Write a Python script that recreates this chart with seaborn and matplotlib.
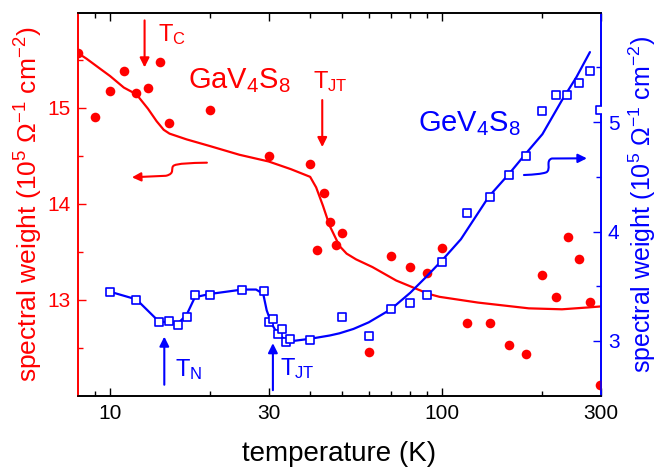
import numpy as np
import pandas as pd
import matplotlib
matplotlib.use("Agg")
import matplotlib.pyplot as plt
from matplotlib.path import Path
from matplotlib.patches import FancyArrowPatch
from matplotlib.ticker import FixedLocator, NullFormatter
import seaborn as sns

# GaV4S8 spectral weight (left axis, red dots + fit line)
ga_temp = [8.0, 9.0, 10.0, 11.0, 12.0, 13.0, 14.1, 15.0, 20.0, 30.0, 40.0, 41.9, 43.9,
           45.8, 47.8, 50.0, 60.0, 70.0, 80.0, 90.0, 100.0, 119, 139, 159, 178, 200,
           219, 238, 258, 278, 298]
ga_weight = [15.57, 14.90, 15.17, 15.38, 15.15, 15.21, 15.48, 14.84, 14.98, 14.50, 14.41,
             13.52, 14.11, 13.81, 13.57, 13.69, 12.46, 13.46, 13.34, 13.28, 13.54, 12.76,
             12.76, 12.53, 12.43, 13.26, 13.03, 13.65, 13.42, 12.98, 12.11]
ga_fit_temp = [8, 8.5, 9.3, 10, 11, 12, 13, 13.8, 14.5, 15.1, 17, 20, 24.5, 30, 35, 40,
               41.7, 43.7, 45.8, 49, 51.5, 55, 61.6, 72.6, 91, 98, 128, 182, 229, 276, 300]
ga_fit_weight = [15.57, 15.51, 15.41, 15.33, 15.21, 15.14, 14.99, 14.86, 14.77, 14.73,
                 14.67, 14.60, 14.51, 14.44, 14.36, 14.28, 14.17, 13.98, 13.77, 13.56,
                 13.48, 13.42, 13.34, 13.20, 13.06, 13.03, 12.97, 12.91, 12.90, 12.92, 12.93]

# GeV4S8 spectral weight (right axis, blue open squares + fit line)
ge_temp = [10, 12, 14, 15, 16, 17, 18, 20, 25, 29, 30, 31, 32.1, 32.9, 33.9, 34.8, 40,
           50, 60, 70, 80, 90, 100, 119, 139, 159, 178, 200, 219, 237, 258, 278, 298]
ge_weight = [3.45, 3.37, 3.17, 3.18, 3.15, 3.22, 3.42, 3.42, 3.47, 3.46, 3.17, 3.20, 3.06,
             3.11, 2.99, 3.02, 3.01, 3.22, 3.05, 3.29, 3.35, 3.42, 3.72, 4.17, 4.32, 4.52,
             4.69, 5.10, 5.25, 5.25, 5.36, 5.47, 5.11]
ge_fit_temp = [10, 12, 14, 15, 16, 17, 18, 20, 25, 27.5, 28.9, 29.6, 30.6, 31.7, 33.6,
               35.5, 40, 45.8, 49, 54, 60, 70, 80, 89, 100, 113.7, 138, 159, 178,
               200, 229, 253, 278]
ge_fit_weight = [3.45, 3.38, 3.18, 3.17, 3.16, 3.24, 3.40, 3.43, 3.47, 3.47, 3.43, 3.28,
                 3.16, 3.08, 3.01, 3.00, 3.02, 3.05, 3.07, 3.11, 3.17, 3.29, 3.44, 3.58,
                 3.74, 3.93, 4.32, 4.53, 4.71, 4.89, 5.20, 5.41, 5.64]

x_major = [10, 30, 100, 300]
x_minor = [9, 20, 40, 50, 60, 70, 80, 90, 200]

RED = "#ff0000"
BLUE = "#0000ff"

sns.set_theme(style="ticks")
plt.rcParams["font.family"] = ["Liberation Sans", "DejaVu Sans"]
plt.rcParams["mathtext.fontset"] = "custom"
plt.rcParams["mathtext.rm"] = "Liberation Sans"
plt.rcParams["mathtext.it"] = "Liberation Sans:italic"
plt.rcParams["mathtext.bf"] = "Liberation Sans:bold"

fig = plt.figure(figsize=(6.6, 4.67), dpi=100)
ax = fig.add_axes([0.118, 0.1527, 0.7925, 0.8201])
ax2 = ax.twinx()

ga = pd.DataFrame({"T": ga_temp, "W": ga_weight})
ga_fit = pd.DataFrame({"T": ga_fit_temp, "W": ga_fit_weight})
ge = pd.DataFrame({"T": ge_temp, "W": ge_weight})
ge_fit = pd.DataFrame({"T": ge_fit_temp, "W": ge_fit_weight})

sns.lineplot(data=ga_fit, x="T", y="W", ax=ax, color=RED, lw=1.6, sort=False, zorder=2)
sns.scatterplot(data=ga, x="T", y="W", ax=ax, color=RED, s=48, edgecolor=RED,
                linewidth=0, zorder=3)
sns.lineplot(data=ge_fit, x="T", y="W", ax=ax2, color=BLUE, lw=1.6, sort=False, zorder=2)
sns.scatterplot(data=ge, x="T", y="W", ax=ax2, marker="s", s=34, facecolor="white",
                edgecolor=BLUE, linewidth=1.2, zorder=3)

ax.set_xscale("log")
ax.set_xlim(8, 300)
ax.set_ylim(12.0, 15.99)
ax2.set_ylim(2.5, 6.0)

ax.xaxis.set_major_locator(FixedLocator(x_major))
ax.xaxis.set_minor_locator(FixedLocator(x_minor))
ax.xaxis.set_minor_formatter(NullFormatter())
ax.set_xticklabels([str(v) for v in x_major])
ax.yaxis.set_major_locator(FixedLocator([13, 14, 15]))
ax.yaxis.set_minor_locator(FixedLocator([12.5, 13.5, 14.5, 15.5]))
ax2.yaxis.set_major_locator(FixedLocator([3, 4, 5]))
ax2.yaxis.set_minor_locator(FixedLocator([3.5, 4.5, 5.5]))

ax.tick_params(axis="x", which="both", direction="in", top=True, colors="black",
               labelsize=15, pad=6)
ax.tick_params(axis="x", which="major", length=6, width=1)
ax.tick_params(axis="x", which="minor", length=3.5, width=1)
ax.tick_params(axis="y", which="both", direction="in", colors=RED, labelsize=15, pad=5)
ax.tick_params(axis="y", which="major", length=6, width=1)
ax.tick_params(axis="y", which="minor", length=3.5, width=1)
ax2.tick_params(axis="y", which="both", direction="in", colors=BLUE, labelsize=15, pad=5)
ax2.tick_params(axis="y", which="major", length=6, width=1)
ax2.tick_params(axis="y", which="minor", length=3.5, width=1)

for a in (ax, ax2):
    a.spines["left"].set_color(RED)
    a.spines["right"].set_color(BLUE)
    a.spines["top"].set_color("black")
    a.spines["bottom"].set_color("black")
    for s in a.spines.values():
        s.set_linewidth(1.2)

ylab = "spectral weight (10$^{5}$ Ω$^{-1}$ cm$^{-2}$)"
ax.set_ylabel(ylab, color=RED, fontsize=19, labelpad=2)
ax2.set_ylabel(ylab, color=BLUE, fontsize=18, labelpad=5)
ax.set_xlabel("temperature (K)", color="black", fontsize=20, labelpad=13)

# transition markers
arrow_kw = dict(arrowstyle="-|>", lw=1.5, mutation_scale=14, shrinkA=0, shrinkB=0)
ax.annotate("", xy=(12.7, 15.42), xytext=(12.7, 15.91),
            arrowprops=dict(color=RED, **arrow_kw))
ax.text(13.9, 15.69, "T$_{\\mathrm{C}}$", color=RED, fontsize=17)
ax.annotate("", xy=(43.5, 14.59), xytext=(43.5, 15.08),
            arrowprops=dict(color=RED, **arrow_kw))
ax.text(40.8, 15.20, "T$_{\\mathrm{JT}}$", color=RED, fontsize=17)
ax.text(17.1, 15.20, "GaV$_{4}$S$_{8}$", color=RED, fontsize=21)

ax2.annotate("", xy=(14.56, 3.04), xytext=(14.56, 2.60),
             arrowprops=dict(color=BLUE, **arrow_kw))
ax2.text(15.7, 2.68, "T$_{\\mathrm{N}}$", color=BLUE, fontsize=17)
ax2.annotate("", xy=(30.9, 2.98), xytext=(30.9, 2.55),
             arrowprops=dict(color=BLUE, **arrow_kw))
ax2.text(32.4, 2.69, "T$_{\\mathrm{JT}}$", color=BLUE, fontsize=17)
ax2.text(84.3, 4.92, "GeV$_{4}$S$_{8}$", color=BLUE, fontsize=21)

# squiggly arrows pointing to the matching axis (axes-fraction coordinates)
red_path = Path([(0.2467, 0.6084), (0.2141, 0.6076), (0.1912, 0.6063), (0.1836, 0.6010),
                 (0.1759, 0.5945), (0.1874, 0.5802), (0.1683, 0.5742), (0.1033, 0.5702)],
                [Path.MOVETO, Path.CURVE4, Path.CURVE4, Path.CURVE4,
                 Path.CURVE4, Path.CURVE4, Path.CURVE4, Path.LINETO])
blue_path = Path([(0.8528, 0.5762), (0.8738, 0.5775), (0.8853, 0.5789), (0.8948, 0.5828),
                  (0.9063, 0.5893), (0.8929, 0.6141), (0.9063, 0.6193), (0.9732, 0.6198)],
                 [Path.MOVETO, Path.CURVE4, Path.CURVE4, Path.CURVE4,
                  Path.CURVE4, Path.CURVE4, Path.CURVE4, Path.LINETO])
for p, c in ((red_path, RED), (blue_path, BLUE)):
    ax2.add_patch(FancyArrowPatch(path=p, arrowstyle="-|>", color=c, lw=1.5,
                                  mutation_scale=13, transform=ax2.transAxes))

fig.savefig("out.png", dpi=100)
